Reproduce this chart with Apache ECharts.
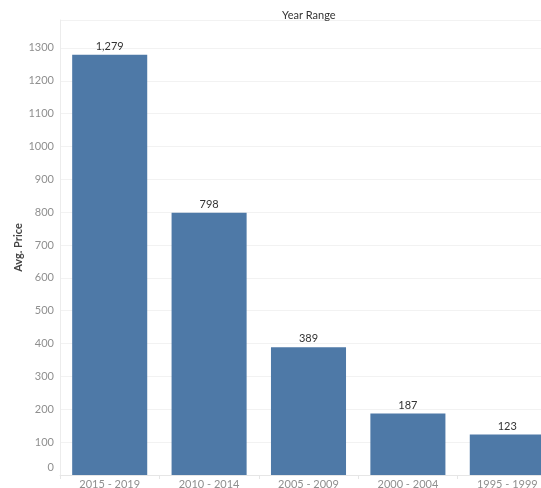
<!DOCTYPE html>
<html>
<head>
<meta charset="utf-8">
<script src="https://cdn.jsdelivr.net/npm/echarts@6/dist/echarts.min.js"></script>
<style>html,body{margin:0;padding:0;background:#fff}#c{width:541px;height:488px}</style>
</head>
<body>
<div id="c"></div>
<script>
const categories = ['2015 - 2019', '2010 - 2014', '2005 - 2009', '2000 - 2004', '1995 - 1999'];
const avgPrice = [1279, 798, 389, 187, 123];
const FONT = 'Lato, "Open Sans", sans-serif';

const chart = echarts.init(document.getElementById('c'), null, {renderer: 'canvas'});
chart.setOption({
  animation: false,
  backgroundColor: '#ffffff',
  title: {
    text: 'Year Range',
    left: 277,
    top: 5,
    textStyle: {fontFamily: FONT, fontSize: 11, fontWeight: 'normal', color: '#333'}
  },
  grid: {left: 60, width: 497, top: 20, bottom: 13, containLabel: false, outerBoundsMode: 'none'},
  xAxis: {
    type: 'category',
    data: categories,
    axisLine: {show: true, lineStyle: {color: '#e6e6e6'}},
    axisTick: {show: true, length: 4, lineStyle: {color: '#e6e6e6'}},
    axisLabel: {fontFamily: FONT, fontSize: 11, color: '#8f8f8f', margin: 4}
  },
  yAxis: {
    type: 'value',
    min: 0,
    max: 1385,
    interval: 100,
    name: 'Avg. Price',
    nameLocation: 'middle',
    nameGap: 36,
    nameMoveOverlap: false,
    nameTextStyle: {fontFamily: FONT, fontSize: 11, fontWeight: 'bold', color: '#444'},
    axisLine: {show: true, lineStyle: {color: '#ececec'}},
    axisTick: {show: false},
    splitLine: {show: true, lineStyle: {color: '#f2f2f2'}},
    axisLabel: {
      fontFamily: FONT, fontSize: 11, color: '#8f8f8f', margin: 6,
      formatter: function (v) {
        if (v % 100 !== 0) return '';
        return v === 0 ? '{z|0}' : String(v);
      },
      rich: {z: {fontFamily: FONT, fontSize: 11, color: '#8f8f8f', padding: [0, 0, 16, 0]}}
    }
  },
  series: [{
    type: 'bar',
    data: avgPrice,
    barCategoryGap: '24.5%',
    itemStyle: {color: '#4e79a7'},
    label: {
      show: true,
      position: 'top',
      distance: 3,
      fontFamily: FONT,
      fontSize: 11,
      color: '#333',
      formatter: function (p) { return p.value.toLocaleString('en-US'); }
    }
  }]
});
</script>
</body>
</html>
